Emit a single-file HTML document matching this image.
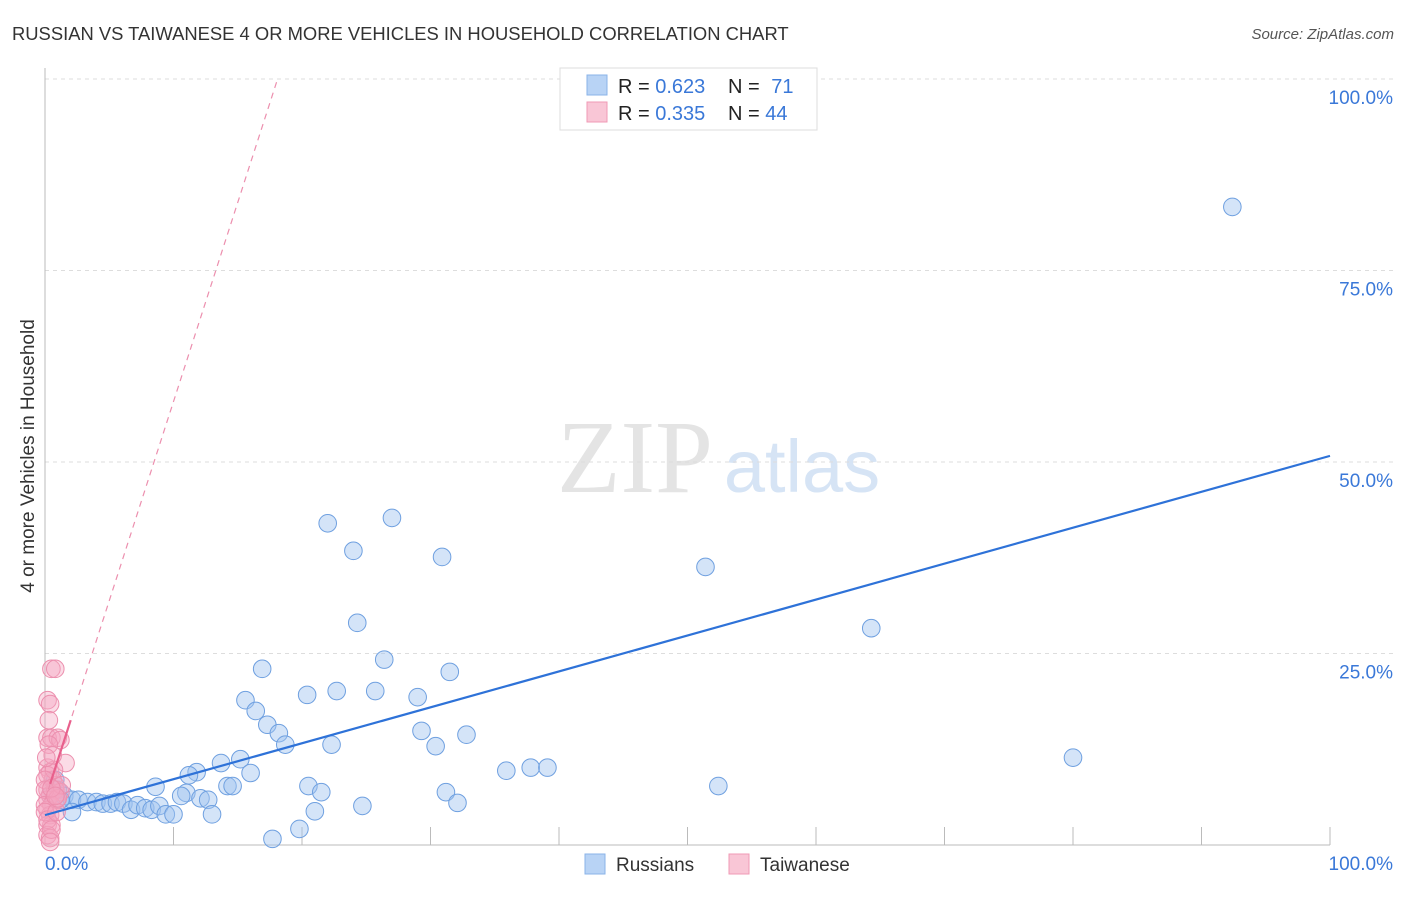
<!DOCTYPE html>
<html><head><meta charset="utf-8">
<style>
body{margin:0;background:#fff;font-family:"Liberation Sans",sans-serif;}
svg text{font-family:"Liberation Sans",sans-serif;}
</style></head>
<body>
<svg id="chart" width="1406" height="892" viewBox="0 0 1406 892">
<text x="12" y="40" font-size="18.4" fill="#333">RUSSIAN VS TAIWANESE 4 OR MORE VEHICLES IN HOUSEHOLD CORRELATION CHART</text>
<text x="1394" y="39" font-size="15" fill="#555" font-style="italic" text-anchor="end">Source: ZipAtlas.com</text>
<g>
<text x="635" y="492" font-size="104" fill="#e4e4e4" font-family="Liberation Serif" text-anchor="middle" style="font-family:'Liberation Serif',serif">ZIP</text>
<text x="802" y="492" font-size="74" fill="#d6e4f5" text-anchor="middle">atlas</text>
</g>
<g id="grid"></g>
<g id="axes"></g>
<g id="marks"></g>
<text x="34" y="456" font-size="19" fill="#333" text-anchor="middle" transform="rotate(-90 34 456)">4 or more Vehicles in Household</text>
<g>
<rect x="560" y="68" width="257" height="62" fill="#fff" stroke="#ddd"/>
<rect x="587" y="75" width="20" height="20" fill="#b8d3f5" stroke="#8ab3e8"/>
<rect x="587" y="102" width="20" height="20" fill="#f9c6d6" stroke="#f09ab5"/>
<text x="618" y="93" font-size="20" fill="#222">R = <tspan fill="#3a78d8">0.623</tspan></text>
<text x="728" y="93" font-size="20" fill="#222">N = <tspan fill="#3a78d8" dx="6">71</tspan></text>
<text x="618" y="120" font-size="20" fill="#222">R = <tspan fill="#3a78d8">0.335</tspan></text>
<text x="728" y="120" font-size="20" fill="#222">N = <tspan fill="#3a78d8">44</tspan></text>
</g>
<g>
<rect x="585" y="854" width="20" height="20" fill="#b8d3f5" stroke="#8ab3e8"/>
<text x="616" y="871" font-size="19" fill="#333">Russians</text>
<rect x="729" y="854" width="20" height="20" fill="#f9c6d6" stroke="#f09ab5"/>
<text x="760" y="871" font-size="19" fill="#333">Taiwanese</text>
</g>
</svg>
<script>
const yTicks = [25, 50, 75, 100];
const yTickLabels = ["25.0%", "50.0%", "75.0%", "100.0%"];
const xTicks = [10,20,30,40,50,60,70,80,90,100];
const russX = [92.4,51.4,64.3,80.0,52.4,22.0,27.0,24.0,30.9,24.3,26.4,31.5,16.9,20.4,22.7,25.7,29.0,15.6,16.4,17.3,18.2,18.7,22.3,29.3,30.4,32.8,35.9,37.8,39.1,15.2,13.7,16.0,11.8,11.2,8.6,11.0,10.6,12.1,12.7,14.2,14.6,20.5,21.5,31.2,32.1,24.7,21.0,13.0,17.7,19.8,0.8,1.0,1.5,2.1,2.6,3.3,4.0,4.5,5.1,5.6,6.1,6.7,7.2,7.8,8.3,8.9,9.4,10.0,2.1,0.4,1.2];
const russY = [83.3,36.3,28.3,11.4,7.7,42.0,42.7,38.4,37.6,29.0,24.2,22.6,23.0,19.6,20.1,20.1,19.3,18.9,17.5,15.7,14.6,13.1,13.1,14.9,12.9,14.4,9.7,10.1,10.1,11.2,10.7,9.4,9.5,9.1,7.6,6.8,6.4,6.1,5.9,7.7,7.7,7.7,6.9,6.9,5.5,5.1,4.4,4.0,0.8,2.1,8.5,7.2,6.4,5.9,5.9,5.6,5.6,5.4,5.4,5.6,5.4,4.6,5.2,4.8,4.6,5.1,4.0,4.0,4.3,6.5,5.9];
const taiX = [0.5,0.8,0.2,0.4,0.2,0.5,1.0,1.2,1.6,0.2,0.4,0.6,0.8,0.2,0.4,0.8,1.2,0.2,0.5,0.9,0.2,0.4,0.2,0.5,0.2,0.4,0.2,0.7,0,0,0,0,0.2,0.5,0.9,1.0,1.3,0.3,0.3,0.6,0.1,0.5,0.8,0.4];
const taiY = [23.0,23.0,18.9,18.4,14.0,14.0,14.0,13.7,10.7,10.1,9.5,8.5,7.8,7.2,6.5,7.2,6.9,5.9,5.2,5.9,4.6,3.9,2.6,2.6,1.3,0.9,9.1,9.8,8.5,7.2,5.2,4.3,3.3,2.0,4.3,6.1,7.8,13.1,16.3,11.7,11.4,7.4,6.4,0.4];
const russTrend = [3.9, 50.8];
const taiTrend = [5.9, 100, 18.1];
const NS='http://www.w3.org/2000/svg';
const X0=45,X1=1330,Y0=845,Y100=79;
const sx=v=>X0+(X1-X0)*v/100;
const sy=v=>Y0-(Y0-Y100)*v/100;
function mk(tag,attrs,parent){const e=document.createElementNS(NS,tag);for(const k in attrs)e.setAttribute(k,attrs[k]);parent.appendChild(e);return e;}
const grid=document.getElementById('grid'),axes=document.getElementById('axes'),marks=document.getElementById('marks');
yTicks.forEach((t,i)=>{
 const l=mk('line',{x1:X0,x2:1395,y1:sy(t),y2:sy(t),stroke:'#ddd','stroke-dasharray':'4 4'},grid);
 
 
 const tx=mk('text',{x:1393,y:sy(t)+25,'font-size':19,fill:'#3a78d8','text-anchor':'end'},axes);
 tx.textContent=yTickLabels[i];
 
 
});
mk('line',{x1:X0,x2:X0,y1:68,y2:Y0,stroke:'#bbb'},axes);
mk('line',{x1:X0,x2:X1,y1:Y0,y2:Y0,stroke:'#bbb'},axes);
xTicks.forEach(t=>{const l=mk('line',{x1:sx(t),x2:sx(t),y1:Y0,y2:Y0-18,stroke:'#bbb'},axes);
 
 });
const xl=mk('text',{x:45,y:870,'font-size':19,fill:'#3a78d8'},axes);xl.textContent='0.0%';


const xr=mk('text',{x:1393,y:870,'font-size':19,fill:'#3a78d8','text-anchor':'end'},axes);xr.textContent='100.0%';


russX.forEach((v,i)=>{const c=mk('circle',{cx:sx(v),cy:sy(russY[i]),r:8.8,fill:'rgba(160,196,240,0.45)',stroke:'#6fa0e0','stroke-width':1},marks);
 
 });
taiX.forEach((v,i)=>{const c=mk('circle',{cx:sx(v),cy:sy(taiY[i]),r:8.8,fill:'rgba(244,165,192,0.4)',stroke:'#ec8fae','stroke-width':1},marks);
 
 });
const rt=mk('line',{x1:sx(0),y1:sy(russTrend[0]),x2:sx(100),y2:sy(russTrend[1]),stroke:'#2e72d8','stroke-width':2.2},marks);


const slope=(taiTrend[1]-taiTrend[0])/taiTrend[2];
const td=mk('line',{x1:sx(0),y1:sy(taiTrend[0]),x2:sx(taiTrend[2]),y2:sy(taiTrend[1]),stroke:'#ec8fae','stroke-width':1.2,'stroke-dasharray':'6 5'},marks);


const ts=mk('line',{x1:sx(0.4),y1:sy(taiTrend[0]+slope*0.4),x2:sx(2),y2:sy(taiTrend[0]+slope*2),stroke:'#e8608c','stroke-width':2.2},marks);


</script>
</body></html>
